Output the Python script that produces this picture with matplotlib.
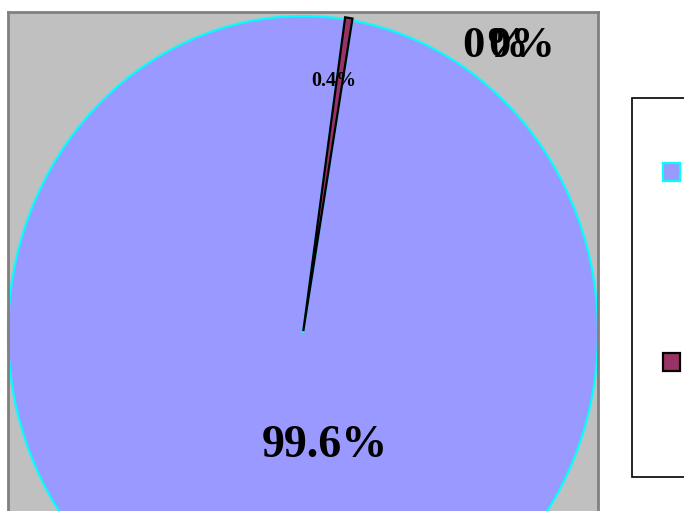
import matplotlib
matplotlib.use("Agg")
import matplotlib.pyplot as plt
from matplotlib.patches import Rectangle

# data
values = [99.6, 0.4]
pct_labels = ["99.6%", "0.4%"]
zero_labels = ["0%", "0%"]
colors = ["#9999FF", "#993366"]
edge_colors = ["#00FFFF", "#000000"]

W, H = 684, 511
fig = plt.figure(figsize=(W / 100, H / 100), dpi=100)
fig.patch.set_facecolor("white")

# plot area (runs off the bottom of the picture)
ax = fig.add_axes([8 / W, 1 - 660 / H, 590 / W, 648 / H])

wedges, _ = ax.pie(values, colors=colors, startangle=80.4, counterclock=False,
                   explode=[0, 0.006], radius=1)
for w, ec in zip(wedges, edge_colors):
    w.set_edgecolor(ec)
    w.set_linewidth(1.6)

ax.set_aspect("auto")
ax.set_xlim(-1.0, 1.0)
ax.set_ylim(-1.0315, 1.0126)
ax.set_frame_on(True)
ax.set_facecolor("#C0C0C0")
for s in ax.spines.values():
    s.set_color("#808080")
    s.set_linewidth(2)
ax.set_xticks([])
ax.set_yticks([])


def px(x, y):
    # picture pixel -> data coords of the pie axes
    return (x - 303) / 295, (333 - y) / 317


font = dict(family=["Liberation Serif", "DejaVu Serif"], weight="bold",
            ha="center", va="center_baseline")

ax.text(*px(325, 441), pct_labels[0], fontsize=33, **font)
ax.text(*px(334, 79), pct_labels[1], fontsize=14.5, **font)
ax.text(*px(496, 42), zero_labels[0], fontsize=32, **font)
ax.text(*px(522, 42), zero_labels[1], fontsize=32, **font)

# legend box (text falls outside the picture)
fig.add_artist(Rectangle((632 / W, 1 - 477 / H), 80 / W, 379 / H,
                         transform=fig.transFigure, facecolor="white",
                         edgecolor="black", linewidth=1.2))
for yc, c, ec in zip([172, 362], colors, edge_colors):
    fig.add_artist(Rectangle((663 / W, 1 - (yc + 9) / H), 17 / W, 18 / H,
                             transform=fig.transFigure, facecolor=c,
                             edgecolor=ec, linewidth=1.6))

fig.savefig("out.png", dpi=100)
